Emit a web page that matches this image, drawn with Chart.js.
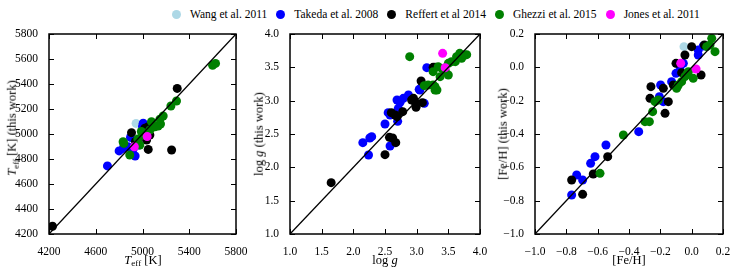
<!DOCTYPE html>
<html>
<head>
<meta charset="utf-8">
<script src="https://cdn.jsdelivr.net/npm/chart.js@4.4.0/dist/chart.umd.min.js"></script>
<style>
  body { margin: 0; width: 741px; height: 274px; background: #fff; position: relative; overflow: hidden; font-family: "Liberation Serif", "DejaVu Serif", serif; color: #000; }
  canvas { position: absolute; top: 0; }
  .lab { position: absolute; font-size: 12.5px; white-space: nowrap; line-height: 1; }
  .lab sub { font-size: 0.72em; vertical-align: -0.3em; line-height: 0; }
  .xlab { transform: translate(-50%, -50%); }
  .ylab { transform: translate(-50%, -50%) rotate(-90deg); }
  #legend { position: absolute; top: 8px; left: 172px; display: flex; align-items: center; font-size: 11.5px; white-space: nowrap; }
  #legend span.dot { display: inline-block; width: 9px; height: 9px; border-radius: 50%; margin-right: 9px; }
  #legend span.item { display: flex; align-items: center; margin-right: 9px; }
</style>
</head>
<body>
<div id="legend"></div>
<canvas id="c1" width="256" height="274" style="left:0px"></canvas>
<canvas id="c2" width="255" height="274" style="left:245px"></canvas>
<canvas id="c3" width="251" height="274" style="left:490px"></canvas>

<div class="lab xlab" style="left:143px; top:260px"><i>T</i><sub>eff</sub> [K]</div>
<div class="lab xlab" style="left:385px; top:260px">log <i>g</i></div>
<div class="lab xlab" style="left:629px; top:260px">[Fe/H]</div>
<div class="lab ylab" style="left:12px; top:128px"><i>T</i><sub>eff</sub> [K] (this work)</div>
<div class="lab ylab" style="left:259px; top:134px">log <i>g</i> (this work)</div>
<div class="lab ylab" style="left:503px; top:134px">[Fe/H] (this work)</div>

<script>
const surveys = ['Wang et al. 2011', 'Takeda et al. 2008', 'Reffert et al 2014', 'Ghezzi et al. 2015', 'Jones et al. 2011'];
const colors = ['#add8e6', '#0000ff', '#000000', '#008000', '#ff00ff'];

// [literature, this work]
const wangTeff = [[4945, 5085]];
const takedaTeff = [[4700, 4745], [4800, 4865], [4835, 4885], [4877, 4898], [4897, 4973], [4937, 4824], [4971, 4912], [5006, 5086], [5000, 5060], [4960, 4945], [4920, 4880]];
const reffertTeff = [[4230, 4262], [4906, 5011], [5020, 5046], [5049, 5059], [5035, 4952], [5049, 4877], [5249, 4872], [5297, 5365], [5063, 4992], [4940, 4940]];
const ghezziTeff = [[5600, 5550], [5625, 5565], [5291, 5264], [5243, 5224], [5177, 5144], [5154, 5080], [5134, 5064], [5100, 5059], [5077, 5099], [5149, 5118], [5063, 5032], [5106, 5058], [4840, 4925], [4891, 4832], [4977, 4912], [4834, 4938], [5000, 4990], [4990, 5020], [5030, 5000], [4960, 4960]];
const jonesTeff = [[5040, 4980], [4930, 4898]];

const wangLogg = [];
const takedaLogg = [[2.24, 2.185], [2.15, 2.37], [2.26, 2.44], [2.29, 2.46], [2.58, 2.32], [2.5, 2.65], [2.70, 2.69], [2.55, 2.82], [2.58, 2.785], [2.71, 2.885], [2.69, 3.01], [2.74, 2.98], [2.79, 3.035], [2.87, 3.085], [3.12, 2.96], [3.04, 3.17], [3.16, 3.495], [3.05, 3.16]];
const reffertLogg = [[1.65, 1.77], [2.5, 2.19], [2.57, 2.45], [2.62, 2.44], [2.67, 2.37], [2.60, 2.82], [2.66, 2.785], [2.69, 2.76], [2.78, 2.835], [2.92, 3.01], [2.95, 3.035], [2.97, 2.985], [2.99, 2.90], [3.09, 2.97], [3.07, 3.295], [3.26, 3.50], [3.29, 3.50]];
const ghezziLogg = [[2.89, 3.66], [3.12, 3.225], [3.26, 3.235], [3.29, 3.16], [3.32, 3.16], [3.29, 3.21], [3.18, 3.235], [3.34, 3.51], [3.50, 3.56], [3.50, 3.385], [3.37, 3.36], [3.26, 3.435], [3.55, 3.585], [3.63, 3.66], [3.68, 3.71], [3.76, 3.685], [3.79, 3.69], [3.71, 3.635], [3.61, 3.585], [3.40, 3.48], [3.45, 3.45]];
const jonesLogg = [[3.41, 3.71], [3.45, 3.495]];

const wangFeh = [[-0.049, 0.124]];
const takedaFeh = [[-0.766, -0.766], [-0.734, -0.646], [-0.696, -0.676], [-0.645, -0.576], [-0.617, -0.536], [-0.547, -0.466], [-0.338, -0.386], [-0.206, -0.176], [-0.181, -0.206], [-0.198, -0.106], [-0.128, -0.086], [-0.1, -0.036], [-0.074, 0.004], [-0.053, 0.024], [0.042, 0.104], [0.042, 0.074], [0.074, 0.128]];
const reffertFeh = [[-0.696, -0.762], [-0.766, -0.676], [-0.628, -0.64], [-0.536, -0.536], [-0.17, -0.276], [-0.266, -0.186], [-0.149, -0.206], [-0.26, -0.116], [-0.181, -0.126], [-0.117, -0.106], [-0.064, -0.032], [-0.1, 0.024], [-0.043, 0.074], [0.0, 0.124], [0.081, 0.134], [0.06, -0.046]];
const ghezziFeh = [[-0.585, -0.636], [-0.436, -0.406], [-0.298, -0.326], [-0.27, -0.326], [-0.249, -0.266], [-0.234, -0.206], [-0.213, -0.196], [-0.096, -0.126], [-0.085, -0.106], [-0.064, -0.086], [-0.043, -0.056], [-0.021, -0.026], [0.01, -0.066], [0.128, 0.174], [0.149, 0.094], [0.096, 0.124], [0.117, 0.134], [-0.03, -0.04]];
const jonesFeh = [[-0.07, 0.024], [0.028, -0.01]];

// axis ranges and tick steps
const teffRange = [4200, 5800], teffStepX = 400, teffStepY = 200;
const loggRange = [1.0, 4.0], loggStep = 0.5;
const fehRange = [-1.0, 0.2], fehStep = 0.2;

// html legend
const legend = document.getElementById('legend');
surveys.forEach((name, i) => {
  const item = document.createElement('span');
  item.className = 'item';
  item.innerHTML = `<span class="dot" style="background:${colors[i]}"></span>${name}`;
  legend.appendChild(item);
});

// matplotlib style frame with inward ticks on all four sides
const frameTicks = {
  id: 'frameTicks',
  afterDatasetsDraw(chart) {
    const { ctx, chartArea: a, scales } = chart;
    ctx.save();
    ctx.strokeStyle = '#000';
    ctx.lineWidth = 1;
    ctx.beginPath();
    scales.x.ticks.forEach(t => {
      const px = Math.round(scales.x.getPixelForValue(t.value)) + 0.5;
      ctx.moveTo(px, a.bottom); ctx.lineTo(px, a.bottom - 5);
      ctx.moveTo(px, a.top); ctx.lineTo(px, a.top + 5);
    });
    scales.y.ticks.forEach(t => {
      const py = Math.round(scales.y.getPixelForValue(t.value)) + 0.5;
      ctx.moveTo(a.left, py); ctx.lineTo(a.left + 5, py);
      ctx.moveTo(a.right, py); ctx.lineTo(a.right - 5, py);
    });
    ctx.stroke();
    ctx.lineWidth = 1.5;
    ctx.strokeRect(a.left, a.top, a.width, a.height);
    ctx.restore();
  }
};

function fmt(digits) {
  return v => {
    if (Math.abs(v) < 1e-9) v = 0;
    return v.toFixed(digits).replace('-', '\u2212');
  };
}

function makePanel(id, sets, range, stepX, stepY, digits, yWidth, padRight) {
  const datasets = sets.map((pts, i) => ({
    label: surveys[i],
    data: pts.map(p => ({ x: p[0], y: p[1] })),
    backgroundColor: colors[i],
    borderWidth: 0,
    pointRadius: 4.5,
    pointHoverRadius: 4.5,
    order: 5 - i
  }));
  datasets.push({
    type: 'line',
    label: 'one-to-one',
    data: [{ x: range[0], y: range[0] }, { x: range[1], y: range[1] }],
    borderColor: '#000',
    borderWidth: 1.3,
    pointRadius: 0,
    order: 0
  });
  const tickFont = { family: '"Liberation Serif", serif', size: 11.5 };
  return new Chart(document.getElementById(id), {
    type: 'scatter',
    data: { datasets },
    options: {
      responsive: false,
      animation: false,
      layout: { padding: { top: 34, right: padRight, left: 0, bottom: 0 } },
      plugins: { legend: { display: false }, tooltip: { enabled: false } },
      scales: {
        x: {
          type: 'linear', min: range[0], max: range[1],
          grid: { display: false }, border: { display: false },
          ticks: { stepSize: stepX, color: '#000', font: tickFont, padding: 3, maxRotation: 0, callback: fmt(digits) },
          afterFit(s) { s.height = 40; }
        },
        y: {
          type: 'linear', min: range[0], max: range[1],
          grid: { display: false }, border: { display: false },
          ticks: { stepSize: stepY, color: '#000', font: tickFont, padding: 3, callback: fmt(digits) },
          afterFit(s) { s.width = yWidth; }
        }
      }
    },
    plugins: [frameTicks]
  });
}

makePanel('c1', [wangTeff, takedaTeff, reffertTeff, ghezziTeff, jonesTeff], teffRange, teffStepX, teffStepY, 0, 49, 20);
makePanel('c2', [wangLogg, takedaLogg, reffertLogg, ghezziLogg, jonesLogg], loggRange, loggStep, loggStep, 1, 45, 20);
makePanel('c3', [wangFeh, takedaFeh, reffertFeh, ghezziFeh, jonesFeh], fehRange, fehStep, fehStep, 1, 45, 18);
</script>
</body>
</html>
